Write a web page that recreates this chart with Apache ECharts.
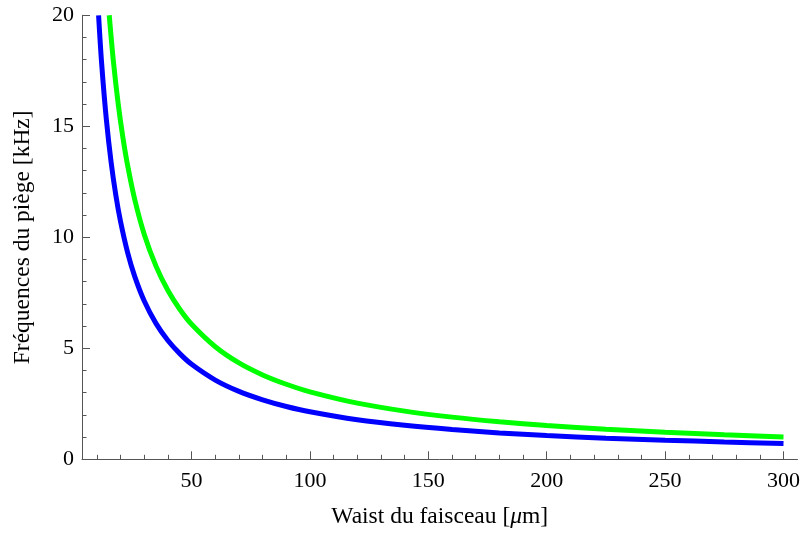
<!DOCTYPE html>
<html>
<head>
<meta charset="utf-8">
<script src="https://cdn.jsdelivr.net/npm/echarts@6/dist/echarts.min.js"></script>
<style>html,body{margin:0;padding:0;background:#fff;}#c{width:803px;height:539px;}</style>
</head>
<body>
<div id="c"></div>
<script>
// Values
const blueX = [10.7, 12, 14, 16, 18, 20, 23, 26, 30, 35, 40, 45, 50, 60, 70, 80, 90, 100, 120, 140, 160, 180, 200, 225, 250, 275, 300];
const blueY = [20.0, 17.83, 15.29, 13.38, 11.89, 10.70, 9.30, 8.23, 7.13, 6.11, 5.35, 4.76, 4.28, 3.57, 3.06, 2.68, 2.38, 2.14, 1.78, 1.53, 1.34, 1.19, 1.07, 0.95, 0.86, 0.78, 0.71];
const greenX = [15.2, 17, 19, 21, 23, 26, 30, 35, 40, 45, 50, 60, 70, 80, 90, 100, 120, 140, 160, 180, 200, 225, 250, 275, 300];
const greenY = [20.0, 17.88, 16.0, 14.48, 13.22, 11.69, 10.13, 8.69, 7.60, 6.76, 6.08, 5.07, 4.34, 3.80, 3.38, 3.04, 2.53, 2.17, 1.90, 1.69, 1.52, 1.35, 1.22, 1.11, 1.01];
const xMajorTicks = [50, 100, 150, 200, 250, 300];
const xMinorTicks = [10, 20, 30, 40, 60, 70, 80, 90, 110, 120, 130, 140, 160, 170, 180, 190, 210, 220, 230, 240, 260, 270, 280, 290];
const yTicks = [0, 5, 10, 15, 20];

const font = 'Liberation Serif';
const axisColor = '#555';
const chart = echarts.init(document.getElementById('c'));
const zip = (xs, ys) => xs.map((x, i) => [x, ys[i]]);

chart.setOption({
  animation: false,
  grid: { left: 82, right: 5, top: 15.3, bottom: 79.7, containLabel: false },
  xAxis: [{
    type: 'value', min: 3.7, max: 305.9,
    name: 'Waist du faisceau [{i|μ}m]',
    nameLocation: 'middle', nameGap: 46,
    nameTextStyle: { fontFamily: font, fontSize: 23.5, color: '#000',
      rich: { i: { fontFamily: font, fontStyle: 'italic', fontSize: 23.5, color: '#000' } } },
    axisLine: { show: true, lineStyle: { color: axisColor, width: 1 } },
    axisTick: { show: true, inside: true, length: 8, customValues: xMajorTicks, lineStyle: { color: axisColor } },
    axisLabel: { customValues: xMajorTicks, fontFamily: font, fontSize: 22, color: '#000', margin: 11 },
    splitLine: { show: false }
  }, {
    type: 'value', min: 3.7, max: 305.9, position: 'bottom',
    axisLine: { show: false },
    axisTick: { show: true, inside: true, length: 4.5, customValues: xMinorTicks, lineStyle: { color: axisColor } },
    axisLabel: { show: false },
    splitLine: { show: false }
  }],
  yAxis: {
    type: 'value', min: 0, max: 20, interval: 5,
    name: 'Fréquences du piège [kHz]',
    nameLocation: 'middle', nameGap: 47,
    nameTextStyle: { fontFamily: font, fontSize: 23.5, color: '#000' },
    axisLine: { show: true, lineStyle: { color: axisColor, width: 1 } },
    axisTick: { show: true, inside: true, length: 8, lineStyle: { color: axisColor } },
    minorTick: { show: true, splitNumber: 5, length: 4.5, lineStyle: { color: axisColor } },
    axisLabel: { fontFamily: font, fontSize: 22, color: '#000', margin: 8 },
    splitLine: { show: false }, minorSplitLine: { show: false }
  },
  series: [{
    type: 'line', xAxisIndex: 0, data: zip(blueX, blueY), smooth: 0.3, showSymbol: false,
    lineStyle: { color: '#0000ff', width: 5 }, clip: true
  }, {
    type: 'line', xAxisIndex: 0, data: zip(greenX, greenY), smooth: 0.3, showSymbol: false,
    lineStyle: { color: '#00ff00', width: 5 }, clip: true
  }]
});
</script>
</body>
</html>
